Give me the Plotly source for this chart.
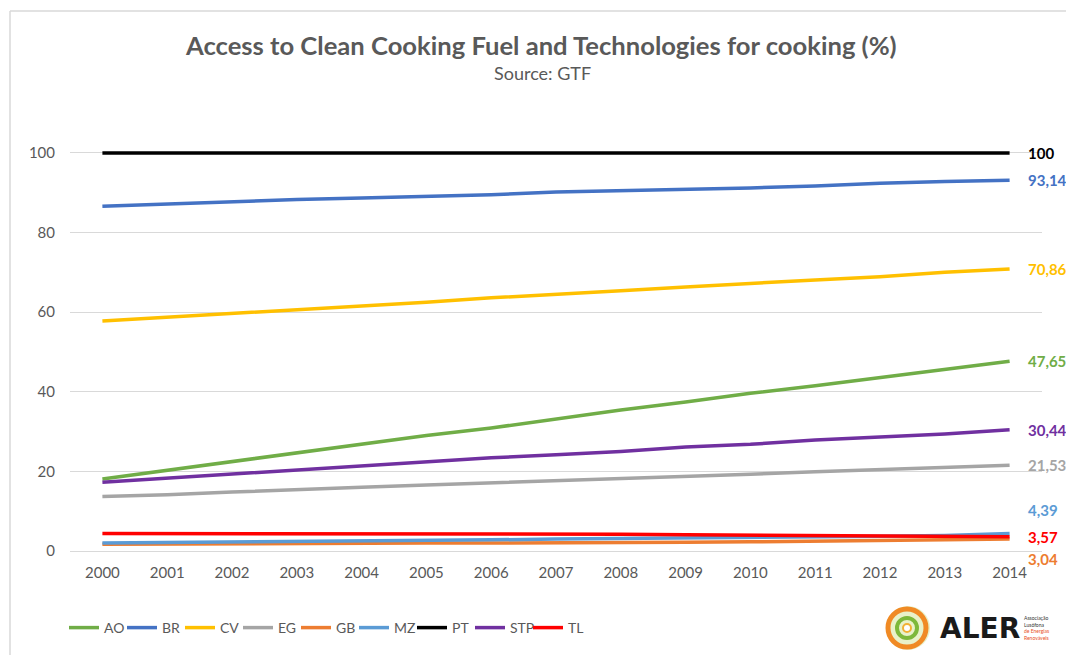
import plotly.graph_objects as go

years = [str(y) for y in range(2000, 2015)]

series_names = ["AO", "BR", "CV", "EG", "GB", "MZ", "PT", "STP", "TL"]
AO = [18.1, 20.3, 22.6, 24.8, 26.8, 29.0, 30.9, 33.2, 35.4, 37.4, 39.6, 41.5, 43.6, 45.5, 47.65]
BR = [86.6, 87.2, 87.6, 88.3, 88.7, 89.1, 89.5, 90.2, 90.5, 90.9, 91.2, 91.7, 92.4, 92.8, 93.14]
CV = [57.8, 58.7, 59.7, 60.6, 61.6, 62.5, 63.6, 64.4, 65.4, 66.3, 67.3, 68.1, 68.9, 70.0, 70.86]
EG = [13.7, 14.1, 14.8, 15.5, 16.0, 16.6, 17.1, 17.7, 18.2, 18.8, 19.3, 19.9, 20.4, 20.9, 21.53]
GB = [1.7, 1.8, 1.8, 1.9, 1.9, 2.0, 2.0, 2.0, 2.1, 2.2, 2.3, 2.4, 2.6, 2.8, 3.04]
MZ = [2.0, 2.1, 2.2, 2.3, 2.5, 2.6, 2.8, 3.0, 3.1, 3.2, 3.3, 3.5, 3.7, 3.9, 4.39]
PT = [100] * 15
STP = [17.3, 18.3, 19.5, 20.4, 21.5, 22.3, 23.4, 24.2, 25.0, 26.1, 26.8, 27.9, 28.6, 29.4, 30.44]
TL = [4.4, 4.4, 4.4, 4.4, 4.4, 4.4, 4.4, 4.4, 4.2, 4.1, 4.0, 3.7, 3.6, 3.6, 3.57]

values = {"AO": AO, "BR": BR, "CV": CV, "EG": EG, "GB": GB, "MZ": MZ, "PT": PT, "STP": STP, "TL": TL}
colors = {"AO": "#70AD47", "BR": "#4472C4", "CV": "#FFC000", "EG": "#A5A5A5", "GB": "#ED7D31",
          "MZ": "#5B9BD5", "PT": "#000000", "STP": "#7030A0", "TL": "#FF0000"}
end_labels = {"PT": "100", "BR": "93,14", "CV": "70,86", "AO": "47,65", "STP": "30,44",
              "EG": "21,53", "MZ": "4,39", "TL": "3,57", "GB": "3,04"}
label_yshift = {"MZ": 24, "GB": -20}

FONT = "Lato, 'Open Sans', sans-serif"
TXT = "#595959"

W, H = 1066, 655
L, R, T, B = 70, 24, 133, 104
pw, ph = W - L - R, H - T - B

def px(xp):
    return (xp - L) / pw

def py(yp):
    return (H - B - yp) / ph

fig = go.Figure()
for n in series_names:
    fig.add_trace(go.Scatter(x=years, y=values[n], name=n, mode="lines",
                             line=dict(color=colors[n], width=3.5)))

annotations = []
for n in series_names:
    annotations.append(dict(x=len(years) - 1, y=values[n][-1], xref="x", yref="y",
                            text="<b>" + end_labels[n] + "</b>", showarrow=False,
                            xanchor="left", yanchor="middle", xshift=16,
                            yshift=label_yshift.get(n, 0),
                            font=dict(family=FONT, size=15, color=colors[n])))

annotations.append(dict(x=px(541), y=py(45), xref="paper", yref="paper",
                        text="<b>Access to Clean Cooking Fuel and Technologies for cooking (%)</b>",
                        showarrow=False, xanchor="center", yanchor="middle",
                        font=dict(family=FONT, size=25.6, color=TXT)))
annotations.append(dict(x=px(542), y=py(73), xref="paper", yref="paper",
                        text="Source: GTF", showarrow=False, xanchor="center", yanchor="middle",
                        font=dict(family=FONT, size=18, color=TXT)))

# Logo text
annotations.append(dict(x=px(938), y=py(628), xref="paper", yref="paper",
                        text="<b>ALER</b>", showarrow=False, xanchor="left", yanchor="middle",
                        font=dict(family="'DejaVu Sans', sans-serif", size=28, color="#1a1a1a")))
annotations.append(dict(x=px(1022), y=py(628), xref="paper", yref="paper",
                        text="Associação<br>Lusófona<br><span style='color:#E8501E'>de Energias<br>Renováveis</span>",
                        showarrow=False, xanchor="left", yanchor="middle", align="left",
                        font=dict(family=FONT, size=5, color="#333333")))

shapes = [
    # chart frame (left and top edges)
    dict(type="line", xref="paper", yref="paper", x0=px(10), x1=px(10), y0=py(11), y1=py(660),
         line=dict(color="#D9D9D9", width=1.5)),
    dict(type="line", xref="paper", yref="paper", x0=px(10), x1=px(1070), y0=py(11), y1=py(11),
         line=dict(color="#D9D9D9", width=1.5)),
    # logo swirl
    dict(type="circle", xref="paper", yref="paper", x0=px(886), x1=px(930), y0=py(606), y1=py(650),
         line=dict(color="#8DC63F", width=0), fillcolor="#E9F1C9"),
    dict(type="circle", xref="paper", yref="paper", x0=px(888), x1=px(926), y0=py(609), y1=py(647),
         line=dict(color="#F08A24", width=5)),
    dict(type="circle", xref="paper", yref="paper", x0=px(897), x1=px(917), y0=py(618), y1=py(638),
         line=dict(color="#7DB83A", width=4)),
    dict(type="circle", xref="paper", yref="paper", x0=px(903), x1=px(911), y0=py(624), y1=py(632),
         line=dict(color="#F2B134", width=2), fillcolor="white"),
]

fig.update_layout(
    width=W, height=H,
    margin=dict(l=L, r=R, t=T, b=B, autoexpand=False),
    paper_bgcolor="white", plot_bgcolor="white",
    font=dict(family=FONT, size=15, color=TXT),
    showlegend=True,
    legend=dict(orientation="h", x=px(64), xanchor="left", y=py(612), yanchor="top",
                itemwidth=30, entrywidth=13, entrywidthmode="pixels",
                font=dict(family=FONT, size=14, color=TXT), tracegroupgap=0,
                bgcolor="rgba(0,0,0,0)"),
    xaxis=dict(type="category", range=[-0.5, len(years) - 0.5], showgrid=False,
               showline=True, linecolor="#D9D9D9", linewidth=1, ticks="",
               tickfont=dict(family=FONT, size=15, color=TXT), ticklabelstandoff=8,
               zeroline=False, fixedrange=True),
    yaxis=dict(range=[0, 105], tickvals=[0, 20, 40, 60, 80, 100], showgrid=True,
               gridcolor="#D9D9D9", gridwidth=1, zeroline=False, showline=False,
               tickfont=dict(family=FONT, size=15, color=TXT), ticklabelstandoff=14,
               fixedrange=True),
    annotations=annotations,
    shapes=shapes,
)

fig.write_html("out.html", config={"displayModeBar": False},
               post_script="document.body.style.margin='0';document.body.style.overflow='hidden';")
